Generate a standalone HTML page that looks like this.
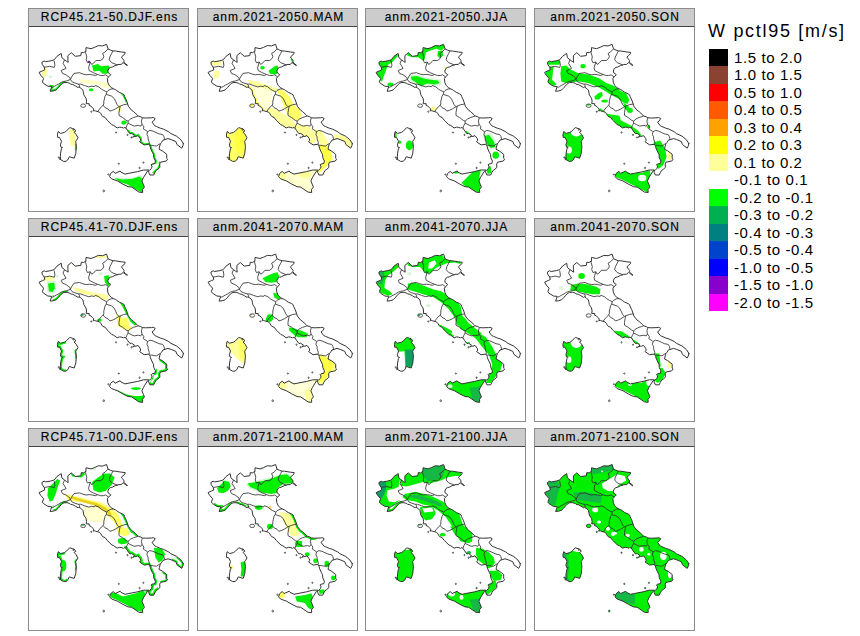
<!DOCTYPE html><html><head><meta charset="utf-8"><style>
html,body{margin:0;padding:0;background:#fff;width:860px;height:636px;overflow:hidden}
body{position:relative;font-family:"Liberation Sans",sans-serif}
.p{position:absolute;box-sizing:border-box;border:1px solid #8c8c8c;background:#fff}
.h{position:absolute;left:0;top:0;right:0;height:17px;background:#cccccc;border-bottom:1px solid #444;
 font-size:12px;letter-spacing:0.95px;text-align:center;line-height:17.5px;color:#000;text-indent:2px;-webkit-text-stroke:0.15px #000;white-space:nowrap}
.lt{position:absolute;left:708px;top:21px;font-size:18px;letter-spacing:1.7px;white-space:nowrap;color:#000}
.sw{position:absolute;left:709px;width:19px}
.lb{position:absolute;left:734px;font-size:15px;letter-spacing:0.6px;white-space:nowrap;color:#000;line-height:17.5px}
svg.m{position:absolute;left:0;top:0}
</style></head><body>
<div class="p" style="left:28px;top:8px;width:161px;height:204px"><div class="h">RCP45.21-50.DJF.ens</div></div>
<div class="p" style="left:197px;top:8px;width:161px;height:204px"><div class="h">anm.2021-2050.MAM</div></div>
<div class="p" style="left:365px;top:8px;width:161px;height:204px"><div class="h">anm.2021-2050.JJA</div></div>
<div class="p" style="left:533.5px;top:8px;width:161px;height:204px"><div class="h">anm.2021-2050.SON</div></div>
<div class="p" style="left:28px;top:217.8px;width:161px;height:204px"><div class="h">RCP45.41-70.DJF.ens</div></div>
<div class="p" style="left:197px;top:217.8px;width:161px;height:204px"><div class="h">anm.2041-2070.MAM</div></div>
<div class="p" style="left:365px;top:217.8px;width:161px;height:204px"><div class="h">anm.2041-2070.JJA</div></div>
<div class="p" style="left:533.5px;top:217.8px;width:161px;height:204px"><div class="h">anm.2041-2070.SON</div></div>
<div class="p" style="left:28px;top:428.2px;width:161px;height:203px"><div class="h">RCP45.71-00.DJF.ens</div></div>
<div class="p" style="left:197px;top:428.2px;width:161px;height:203px"><div class="h">anm.2071-2100.MAM</div></div>
<div class="p" style="left:365px;top:428.2px;width:161px;height:203px"><div class="h">anm.2071-2100.JJA</div></div>
<div class="p" style="left:533.5px;top:428.2px;width:161px;height:203px"><div class="h">anm.2071-2100.SON</div></div>
<div class="lt">W pctl95 [m/s]</div>
<div class="sw" style="top:48.5px;height:17.5px;background:#000000"></div><div class="lb" style="top:48.5px">1.5 to 2.0</div>
<div class="sw" style="top:66.0px;height:17.5px;background:#8a4232"></div><div class="lb" style="top:66.0px">1.0 to 1.5</div>
<div class="sw" style="top:83.5px;height:17.5px;background:#ff0000"></div><div class="lb" style="top:83.5px">0.5 to 1.0</div>
<div class="sw" style="top:101.0px;height:17.5px;background:#ff5a00"></div><div class="lb" style="top:101.0px">0.4 to 0.5</div>
<div class="sw" style="top:118.5px;height:17.5px;background:#ffa200"></div><div class="lb" style="top:118.5px">0.3 to 0.4</div>
<div class="sw" style="top:136.0px;height:17.5px;background:#ffff00"></div><div class="lb" style="top:136.0px">0.2 to 0.3</div>
<div class="sw" style="top:153.5px;height:17.5px;background:#ffff99"></div><div class="lb" style="top:153.5px">0.1 to 0.2</div>
<div class="lb" style="top:171.0px">-0.1 to 0.1</div>
<div class="sw" style="top:188.5px;height:17.5px;background:#00ff00"></div><div class="lb" style="top:188.5px">-0.2 to -0.1</div>
<div class="sw" style="top:206.0px;height:17.5px;background:#00b050"></div><div class="lb" style="top:206.0px">-0.3 to -0.2</div>
<div class="sw" style="top:223.5px;height:17.5px;background:#008080"></div><div class="lb" style="top:223.5px">-0.4 to -0.3</div>
<div class="sw" style="top:241.0px;height:17.5px;background:#0044cc"></div><div class="lb" style="top:241.0px">-0.5 to -0.4</div>
<div class="sw" style="top:258.5px;height:17.5px;background:#0000ff"></div><div class="lb" style="top:258.5px">-1.0 to -0.5</div>
<div class="sw" style="top:276.0px;height:17.5px;background:#8800cc"></div><div class="lb" style="top:276.0px">-1.5 to -1.0</div>
<div class="sw" style="top:293.5px;height:17.5px;background:#ff00ff"></div><div class="lb" style="top:293.5px">-2.0 to -1.5</div>
<svg class="m" width="860" height="636" viewBox="0 0 860 636"><defs><path id="land" d="M22.1,83.3 L25.0,83.0 L28.1,82.0 L29.8,80.3 L30.5,79.6 L31.9,77.9 L33.6,76.1 L34.8,75.2 L36.0,74.6 L39.1,74.5 L41.8,75.3 L42.5,76.1 L44.8,76.5 L47.3,77.9 L50.1,79.6 L50.9,78.9 L51.7,79.6 L52.6,79.9 L54.9,82.2 L55.5,84.9 L55.8,86.8 L57.1,88.9 L58.0,90.2 L58.6,93.2 L58.2,95.6 L61.2,95.7 L61.1,97.4 L62.8,98.0 L64.2,99.6 L65.8,101.0 L65.2,102.9 L66.8,102.6 L67.6,103.0 L71.5,104.1 L72.9,105.7 L74.0,107.6 L74.6,108.4 L77.2,109.5 L79.1,112.1 L79.8,112.7 L83.9,116.8 L85.7,117.4 L89.1,120.0 L91.6,119.1 L93.8,119.4 L95.5,120.1 L96.1,119.5 L97.9,120.0 L99.7,122.8 L101.9,125.7 L103.7,125.4 L106.5,127.4 L105.3,128.4 L104.7,129.2 L106.8,128.4 L108.0,128.4 L110.0,127.6 L112.2,130.5 L112.7,132.3 L111.6,133.8 L116.1,136.9 L120.5,136.3 L121.6,137.5 L122.3,138.8 L122.4,140.0 L124.3,144.2 L125.5,146.5 L125.8,149.7 L127.4,153.0 L126.9,155.4 L123.8,156.1 L122.9,157.0 L124.1,158.0 L123.6,159.9 L123.2,160.7 L121.6,162.3 L120.6,162.7 L120.7,164.3 L121.9,167.0 L125.7,167.0 L126.8,164.6 L128.1,162.4 L129.8,161.3 L131.9,159.4 L131.7,156.0 L132.5,154.2 L138.3,153.0 L139.6,151.2 L138.7,150.4 L138.7,146.3 L134.2,142.8 L131.1,141.3 L131.4,139.2 L132.3,135.9 L133.5,134.5 L134.9,132.2 L140.0,130.6 L143.2,131.6 L147.9,133.6 L148.9,136.5 L153.7,140.2 L155.1,137.3 L155.2,135.2 L155.6,135.8 L152.9,131.8 L148.6,128.2 L142.8,125.5 L140.8,123.8 L135.6,121.2 L132.3,120.2 L128.4,118.5 L126.8,117.8 L124.0,114.1 L125.6,113.0 L127.2,110.5 L125.2,109.5 L123.5,109.8 L117.7,110.0 L114.4,109.8 L112.8,108.8 L110.2,108.0 L109.3,107.1 L105.7,103.7 L103.4,102.1 L100.3,98.1 L99.7,96.0 L98.3,92.0 L97.4,90.2 L96.6,88.5 L96.1,86.8 L94.6,85.8 L91.2,84.3 L88.8,82.6 L87.4,81.6 L85.4,80.8 L83.3,79.5 L81.2,77.5 L79.8,74.4 L79.4,70.4 L80.6,68.9 L82.8,66.7 L80.3,64.9 L79.8,63.0 L80.9,60.4 L82.5,59.4 L84.3,59.0 L87.1,57.5 L89.1,57.1 L90.0,56.5 L93.1,56.4 L95.0,54.7 L95.8,55.1 L98.9,57.5 L99.5,57.3 L97.6,55.8 L95.8,54.0 L96.1,52.7 L94.4,50.4 L93.4,49.0 L95.0,47.6 L97.0,45.7 L97.2,44.4 L93.4,44.0 L87.3,43.0 L84.9,42.9 L82.5,42.1 L80.0,40.9 L78.6,36.3 L74.6,37.9 L70.3,37.6 L66.7,39.3 L63.0,40.7 L58.0,39.6 L57.9,43.0 L55.7,44.7 L53.3,44.4 L52.8,47.6 L47.2,48.3 L43.3,44.7 L39.9,47.6 L39.9,51.8 L40.2,54.4 L38.5,53.3 L36.5,51.8 L33.9,49.7 L33.2,45.4 L29.0,48.3 L26.2,51.8 L22.9,52.8 L17.7,53.7 L16.1,53.0 L13.9,54.3 L14.2,56.4 L16.2,59.2 L16.8,61.8 L14.7,62.7 L11.1,64.4 L12.6,67.1 L15.6,70.4 L14.4,73.9 L15.4,75.3 L19.9,78.2 L23.8,78.6 L22.9,81.0ZM120.7,162.0 L119.5,163.1 L116.4,168.0 L115.4,169.7 L113.9,173.0 L115.5,176.8 L116.4,179.1 L114.5,181.5 L114.7,184.5 L111.0,184.1 L103.7,179.1 L100.0,178.7 L94.8,176.1 L89.5,173.0 L83.6,170.8 L81.6,168.7 L82.5,165.6 L85.3,163.3 L87.1,165.4 L92.2,163.0 L92.9,164.1 L97.0,166.1 L100.9,165.3 L109.7,163.6 L115.7,162.0ZM41.6,119.7 L42.2,119.7 L44.5,120.5 L46.2,120.9 L47.8,123.1 L46.0,124.2 L48.1,126.4 L50.0,129.8 L48.7,131.9 L47.7,133.3 L48.4,138.3 L47.8,145.2 L46.2,150.2 L41.3,148.7 L39.7,152.0 L38.0,153.3 L35.6,153.4 L32.6,151.6 L32.4,148.7 L32.6,145.2 L33.4,140.9 L34.5,139.5 L33.1,139.3 L32.4,136.9 L33.5,133.2 L31.5,129.4 L29.7,129.4 L29.4,126.9 L30.2,123.5 L32.6,125.4 L36.4,124.4 L38.4,123.1Z"/><path id="isl" d="M52.7,97.7 a2.4,1.7 0 1,0 4.9,0 a2.4,1.7 0 1,0 -4.9,0ZM62.7,103.7 a0.6,0.6 0 1,0 1.2,0 a0.6,0.6 0 1,0 -1.2,0ZM87.4,124.5 a0.6,0.6 0 1,0 1.2,0 a0.6,0.6 0 1,0 -1.2,0ZM98.9,126.9 a0.6,0.6 0 1,0 1.2,0 a0.6,0.6 0 1,0 -1.2,0ZM102.9,129.5 a0.6,0.6 0 1,0 1.2,0 a0.6,0.6 0 1,0 -1.2,0ZM111.0,159.9 a0.6,0.7 0 1,0 1.2,0 a0.6,0.7 0 1,0 -1.2,0ZM114.8,154.6 a0.6,0.6 0 1,0 1.2,0 a0.6,0.6 0 1,0 -1.2,0ZM90.2,155.7 a0.6,0.6 0 1,0 1.2,0 a0.6,0.6 0 1,0 -1.2,0ZM75.0,182.9 a0.7,0.9 0 1,0 1.5,0 a0.7,0.9 0 1,0 -1.5,0ZM79.8,166.5 a0.6,0.6 0 1,0 1.2,0 a0.6,0.6 0 1,0 -1.2,0ZM44.8,121.7 a0.6,0.6 0 1,0 1.2,0 a0.6,0.6 0 1,0 -1.2,0ZM31.4,150.9 a0.6,0.9 0 1,0 1.2,0 a0.6,0.9 0 1,0 -1.2,0ZM30.2,149.4 a0.6,0.6 0 1,0 1.2,0 a0.6,0.6 0 1,0 -1.2,0Z"/><path id="bord" d="M26.2,52.8 L26.9,57.3 L26.3,59.4 L21.7,58.3 L18.1,59.0 L16.2,59.2M36.5,51.8 L35.1,55.4 L38.1,60.4 L33.2,62.5 L34.5,65.4 L38.1,66.8 L41.8,69.6 L42.4,71.5M24.3,79.5 L26.2,78.5 L28.4,77.2 L30.5,76.1 L33.2,74.4 L35.7,73.5 L38.7,72.9 L42.4,71.5M42.4,71.5 L44.2,73.9 L46.6,74.9 L50.3,76.1 L51.5,77.5 L51.7,79.6M42.4,71.5 L43.6,68.9 L46.0,65.4 L51.5,64.7 L55.1,66.1 L58.2,66.8 L61.2,66.4 L64.2,66.8 L67.3,67.5 L69.5,66.5M69.5,66.5 L72.7,67.5 L75.2,67.5 L77.6,66.8 L80.6,68.9M69.5,66.5 L65.4,64.7 L61.2,62.5 L60.6,59.7 L62.3,54.0M62.3,54.0 L59.4,54.7 L58.2,51.8 L58.8,49.0 L57.5,44.3 L57.9,43.0M62.3,54.0 L63.6,56.4 L65.4,55.4 L67.9,52.5 L72.7,52.5 L75.2,50.4 L75.8,48.3 L74.6,45.4 L77.0,44.0 L80.0,40.9M84.9,42.9 L83.7,45.4 L81.8,49.0 L81.2,51.8 L83.7,54.7 L89.7,57.0M50.3,76.1 L52.7,76.1 L56.3,77.5 L60.6,78.9 L63.6,78.2 L66.7,78.6 L67.3,77.5 L70.9,78.9 L73.3,81.0 L75.8,82.5 L78.8,83.9M78.8,83.9 L80.0,82.5 L83.1,81.0 L85.4,80.8M78.8,83.9 L78.2,86.3 L77.0,88.2 L76.4,91.0 L75.8,93.2 L75.8,96.0 L75.2,97.2M75.2,97.2 L73.3,98.9 L71.5,101.0 L69.7,103.4M78.2,86.3 L83.7,88.2 L86.1,90.3 L87.9,93.9 L89.1,96.7 L91.0,98.6M91.0,98.6 L92.2,98.1 L95.8,96.7 L99.7,96.0M75.2,97.2 L77.0,99.6 L80.0,101.0 L81.8,103.1 L84.3,102.4 L87.3,101.0 L91.0,98.6M92.2,98.1 L91.6,101.0 L91.0,104.6 L91.0,107.4 L94.6,109.5 L98.3,112.4 L100.1,113.1M100.1,113.1 L100.1,115.2 L98.9,117.4 L97.9,120.0M100.1,113.1 L102.5,111.0 L105.5,109.5 L108.0,108.8 L110.2,108.0M100.1,115.2 L103.1,116.7 L106.1,118.1 L110.4,117.4 L112.8,118.1 L114.0,116.2M114.0,116.2 L113.4,113.1 L114.0,111.0 L114.4,109.8M114.0,116.2 L115.9,118.8 L115.3,120.9 L118.9,123.1 L119.5,123.8M119.5,123.8 L118.9,126.6 L120.1,128.8 L120.1,130.9 L121.3,134.5 L121.1,137.1M119.5,123.8 L121.9,122.4 L125.0,123.1 L128.0,124.5 L131.1,125.9 L134.7,126.6 L135.9,128.5 L136.5,130.9 L135.7,131.6M121.9,137.3 L123.8,137.3 L126.2,137.8 L128.6,138.0 L131.1,136.2 L132.5,135.6"/><clipPath id="clip"><use href="#land"/><use href="#isl"/></clipPath><filter id="bl" x="-5%" y="-5%" width="110%" height="110%"><feGaussianBlur stdDeviation="0.5"/></filter></defs><g transform="translate(28,8)"><g clip-path="url(#clip)"><g filter="url(#bl)"><path fill="#00f000" d="M64.0,57.5 L70.0,56.0 L73.0,58.2 L80.6,57.5 L82.1,61.3 L79.1,65.8 L74.5,65.8 L71.5,62.8 L65.5,63.5Z"/><ellipse fill="#8800cc" cx="60.9" cy="53.7" rx="1.2" ry="0.9"/><ellipse fill="#ffff99" cx="16.3" cy="63.5" rx="2.7" ry="5.3"/><ellipse fill="#d8f6d8" cx="22.4" cy="68.8" rx="1.8" ry="1.5"/><clipPath id="cc1"><path d="M21.6,73.4 L36.7,70.3 L38.3,79.4 L21.6,83.9Z"/></clipPath><g clip-path="url(#cc1)"><use href="#land" fill="none" stroke="#00f000" stroke-width="3"/></g><path fill="#ffffc8" d="M50.4,71.1 L62.4,71.8 L71.5,73.4 L80.6,74.9 L81.3,80.2 L76.1,80.2 L70.0,76.4 L60.9,76.4 L53.4,74.9Z"/><ellipse fill="#00f000" cx="63.2" cy="81.7" rx="2.3" ry="1.5"/><clipPath id="cc2"><path d="M92.7,82.4 L101.7,82.4 L104.8,94.5 L95.7,94.5Z"/></clipPath><g clip-path="url(#cc2)"><use href="#land" fill="none" stroke="#00f000" stroke-width="3"/></g><ellipse fill="#ffff99" cx="91.5" cy="100.6" rx="1.8" ry="3.3"/><ellipse fill="#00f000" cx="96.5" cy="114.2" rx="2.3" ry="1.8"/><path fill="#ffff99" d="M41.2,121.2 L46.0,121.2 L47.7,132.6 L46.0,139.1 L42.8,137.4 L41.2,129.3Z"/><path fill="#00f000" d="M46.9,135.8 L50.1,135.8 L50.1,142.3 L46.9,142.3Z"/><ellipse fill="#00f000" cx="95.7" cy="114.7" rx="2.4" ry="2.0"/><clipPath id="cc3"><path d="M98.1,121.2 L111.2,124.4 L124.2,134.2 L132.3,155.3 L122.6,157.0 L117.7,139.1 L96.5,127.7Z"/></clipPath><g clip-path="url(#cc3)"><use href="#land" fill="none" stroke="#00f000" stroke-width="3"/></g><path fill="#00f000" d="M132.3,153.7 L134.0,157.0 L130.7,161.9 L125.8,165.9 L124.2,164.3 L129.1,160.2Z"/><path fill="#d8f6d8" d="M85.1,169.2 L96.5,170.0 L106.3,169.2 L112.8,166.7 L117.7,171.6 L117.7,181.4 L115.2,186.3 L107.9,183.0 L98.1,178.1 L90.0,174.9Z"/><path fill="#00f000" d="M86.7,170.0 L94.9,171.6 L104.6,170.8 L111.2,168.4 L116.0,171.6 L116.0,179.8 L114.4,184.6 L107.9,181.4 L99.8,176.5 L91.6,174.1Z"/></g></g><use href="#land" fill="none" stroke="#333" stroke-width="1" stroke-linejoin="round"/><use href="#isl" fill="none" stroke="#333" stroke-width="0.8"/><use href="#bord" fill="none" stroke="#333" stroke-width="0.85" stroke-linejoin="round"/></g><g transform="translate(197,8)"><g clip-path="url(#clip)"><g filter="url(#bl)"><path fill="#ffff99" d="M11.8,52.9 L18.6,51.4 L24.7,52.2 L23.9,57.5 L14.1,57.5Z"/><ellipse fill="#ffff99" cx="19.4" cy="66.5" rx="3.0" ry="4.2"/><ellipse fill="#00f000" cx="65.5" cy="59.7" rx="2.3" ry="1.8"/><path fill="#00f000" d="M71.5,62.8 L77.6,58.2 L80.6,57.5 L82.1,62.8 L79.1,66.5 L73.0,65.8Z"/><path fill="#00f000" d="M93.4,50.7 L95.7,49.9 L98.7,56.0 L96.5,56.7Z"/><path fill="#ffff99" d="M50.4,71.8 L59.4,73.4 L68.5,76.4 L77.6,79.4 L80.6,80.9 L77.6,83.9 L71.5,82.4 L62.4,79.4 L53.4,76.4Z"/><path fill="#ffffd8" d="M53.4,77.9 L65.5,79.4 L74.5,82.4 L76.1,91.5 L73.0,99.1 L65.5,100.6 L59.4,94.5 L54.9,85.4Z"/><clipPath id="cc4"><path d="M47.3,73.4 L56.4,73.4 L68.5,103.6 L95.7,118.7 L62.4,118.7 L47.3,88.5Z"/></clipPath><g clip-path="url(#cc4)"><use href="#land" fill="none" stroke="#ffff66" stroke-width="3"/></g><path fill="#ffff66" d="M79.1,80.9 L86.6,82.4 L92.7,88.5 L95.7,94.5 L100.2,100.6 L103.3,108.1 L101.7,112.7 L94.2,111.1 L89.7,103.6 L86.6,97.5 L83.6,90.0Z"/><path fill="#ffff99" d="M68.5,100.6 L77.6,103.6 L88.1,109.6 L95.7,117.2 L77.6,118.7 L70.0,108.1Z"/><ellipse fill="#ffff00" cx="54.1" cy="96.8" rx="2.3" ry="1.2"/><ellipse fill="#ffff00" cx="62.4" cy="102.1" rx="1.5" ry="1.2"/><path fill="#ffff66" d="M24.9,116.3 L52.6,116.3 L52.6,155.3 L24.9,155.3Z"/><ellipse fill="#ffff40" cx="42.8" cy="132.6" rx="4.9" ry="13.0"/><path fill="#ffff99" d="M68.8,100.0 L75.3,106.5 L81.9,113.0 L90.0,117.9 L96.5,121.2 L101.4,127.7 L104.6,129.3 L101.4,119.5 L96.5,113.0 L90.0,108.1 L81.9,103.3 L75.3,100.0Z"/><path fill="#ffff66" d="M88.4,100.0 L101.4,100.0 L104.6,106.5 L103.0,111.4 L94.9,109.8 L90.0,106.5Z"/><path fill="#ffff99" d="M98.1,116.3 L111.2,117.9 L117.7,124.4 L119.3,134.2 L114.4,135.8 L106.3,129.3 L99.8,124.4Z"/><path fill="#ffff99" d="M116.9,121.2 L124.2,122.8 L130.7,132.6 L132.3,135.8 L124.2,137.4 L119.3,129.3Z"/><path fill="#ffff44" d="M121.7,136.6 L130.7,137.4 L134.0,144.0 L135.6,150.5 L132.3,155.3 L127.4,160.2 L122.6,165.1 L119.3,161.9 L124.2,155.3 L125.8,148.8 L122.6,142.3Z"/><path fill="#ffff99" d="M137.2,126.0 L147.0,127.7 L153.5,132.6 L156.7,139.1 L150.2,140.7 L143.7,132.6 L137.2,130.9Z"/><path fill="#ffffd0" d="M78.6,160.2 L120.9,158.6 L120.9,186.3 L78.6,186.3Z"/><ellipse fill="#ffff99" cx="107.9" cy="166.7" rx="6.5" ry="3.3"/><ellipse fill="#ffff99" cx="85.1" cy="168.4" rx="4.1" ry="4.1"/></g></g><use href="#land" fill="none" stroke="#333" stroke-width="1" stroke-linejoin="round"/><use href="#isl" fill="none" stroke="#333" stroke-width="0.8"/><use href="#bord" fill="none" stroke="#333" stroke-width="0.85" stroke-linejoin="round"/></g><g transform="translate(365,8)"><g clip-path="url(#clip)"><g filter="url(#bl)"><path fill="#00f000" d="M12.6,52.9 L20.1,50.7 L24.7,51.4 L26.2,48.4 L31.5,44.6 L33.0,47.7 L27.7,53.7 L23.1,56.7 L20.9,62.8 L18.6,68.8 L17.1,73.4 L14.1,71.8 L11.0,64.3 L13.3,58.2Z"/><path fill="#00f000" d="M42.0,43.1 L51.9,44.6 L56.4,41.6 L62.4,38.6 L71.5,36.3 L77.6,35.3 L80.6,39.3 L76.1,42.4 L71.5,40.8 L65.5,42.4 L60.9,44.6 L59.4,52.2 L57.2,52.2 L53.4,49.2 L47.3,49.2 L42.5,47.7Z"/><path fill="#00f000" d="M73.0,43.1 L77.6,42.4 L78.3,47.7 L74.5,49.9 L72.3,47.7Z"/><path fill="#d8f6d8" d="M44.3,66.5 L53.4,66.5 L59.4,68.8 L68.5,70.3 L76.1,71.8 L76.8,77.1 L70.0,77.9 L62.4,77.1 L56.4,79.4 L48.8,75.6 L45.1,72.6Z"/><path fill="#00f000" d="M45.8,68.8 L51.9,68.1 L57.9,70.3 L65.5,71.8 L73.0,72.6 L74.5,74.9 L70.0,76.4 L62.4,75.6 L56.4,77.9 L50.4,74.1 L46.6,71.8Z"/><ellipse fill="#00f000" cx="25.4" cy="76.4" rx="3.0" ry="1.8"/><ellipse fill="#ffff99" cx="80.6" cy="59.7" rx="1.5" ry="1.2"/><ellipse fill="#ffff99" cx="68.5" cy="100.6" rx="3.0" ry="2.3"/><ellipse fill="#00f000" cx="44.4" cy="137.4" rx="3.6" ry="4.9"/><path fill="#00f000" d="M28.1,122.8 L31.4,122.8 L31.7,129.3 L28.5,129.3Z"/><ellipse fill="#00f000" cx="34.7" cy="134.2" rx="1.6" ry="1.6"/><path fill="#00f000" d="M97.3,123.6 L101.4,122.8 L106.3,126.9 L104.6,129.3 L99.8,127.7Z"/><path fill="#d8f6d8" d="M117.7,126.0 L125.8,124.4 L130.7,132.6 L132.3,140.7 L124.2,141.5 L120.1,135.8Z"/><path fill="#00f000" d="M119.3,127.7 L124.2,126.9 L128.3,132.6 L130.7,139.1 L125.8,139.9 L121.7,135.8Z"/><ellipse fill="#00f000" cx="130.7" cy="147.2" rx="3.3" ry="3.6"/><path fill="#00f000" d="M120.9,158.6 L125.8,158.6 L126.6,165.1 L122.6,165.9Z"/><path fill="#00f000" d="M96.5,174.9 L101.4,170.0 L107.9,163.5 L116.0,161.9 L114.4,168.4 L116.0,176.5 L115.2,184.6 L107.9,183.0 L99.8,178.1Z"/><ellipse fill="#00f000" cx="91.6" cy="163.5" rx="3.3" ry="2.0"/></g></g><use href="#land" fill="none" stroke="#333" stroke-width="1" stroke-linejoin="round"/><use href="#isl" fill="none" stroke="#333" stroke-width="0.8"/><use href="#bord" fill="none" stroke="#333" stroke-width="0.85" stroke-linejoin="round"/></g><g transform="translate(533.5,8)"><g clip-path="url(#clip)"><g filter="url(#bl)"><path fill="#00f000" d="M12.6,62.8 L16.3,59.0 L20.1,58.2 L19.4,64.3 L18.6,71.8 L23.1,76.4 L20.1,77.9 L14.1,74.9 L11.8,68.8Z"/><path fill="#00f000" d="M11.8,52.9 L19.4,50.7 L26.2,50.7 L26.2,56.7 L19.4,56.7 L13.3,56.7Z"/><path fill="#00f000" d="M27.7,58.2 L33.0,57.5 L36.7,61.3 L44.3,65.0 L54.9,66.5 L65.5,70.3 L73.0,74.9 L80.6,77.9 L86.6,82.4 L92.7,85.4 L95.7,91.5 L94.2,96.0 L89.7,94.5 L83.6,90.0 L77.6,87.0 L73.0,83.9 L65.5,79.4 L54.9,74.9 L45.8,73.4 L39.8,74.1 L32.2,74.9 L27.7,73.4 L26.9,65.8Z"/><ellipse fill="#00f000" cx="49.6" cy="58.2" rx="2.7" ry="2.1"/><path fill="#00f000" d="M60.9,88.5 L65.5,84.7 L68.5,83.9 L69.2,87.7 L65.5,91.5 L61.7,91.5Z"/><ellipse fill="#00f000" cx="71.1" cy="93.0" rx="3.3" ry="1.5"/><path fill="#00f000" d="M89.7,94.5 L94.2,97.5 L98.7,103.6 L95.7,105.1 L91.2,100.6Z"/><ellipse fill="#00f000" cx="83.6" cy="111.1" rx="3.3" ry="3.8"/><ellipse fill="#00f000" cx="48.8" cy="93.0" rx="0.8" ry="0.8"/><path fill="#00f000" d="M51.9,96.0 L57.2,96.0 L57.2,97.5 L51.9,97.5Z"/><ellipse fill="#00f000" cx="61.7" cy="102.1" rx="1.2" ry="1.2"/><path fill="#00f000" d="M24.9,117.9 L50.9,117.9 L50.9,153.7 L24.9,153.7Z"/><ellipse fill="#ffffff" cx="42.8" cy="123.6" rx="5.7" ry="4.9"/><ellipse fill="#ffffff" cx="35.5" cy="142.0" rx="2.9" ry="3.6"/><path fill="#00f000" d="M81.0,165.1 L88.4,162.7 L98.1,164.3 L107.9,165.1 L116.0,161.9 L117.7,168.4 L116.0,176.5 L114.4,184.6 L107.9,181.4 L98.1,176.5 L88.4,171.6 L82.7,169.2Z"/><ellipse fill="#ffffff" cx="108.7" cy="170.0" rx="4.1" ry="3.3"/><path fill="#00f000" d="M120.1,134.2 L126.6,132.6 L131.5,139.9 L133.1,148.8 L129.9,157.0 L125.0,161.0 L120.9,156.2 L124.2,148.8 L121.3,142.3Z"/><ellipse fill="#ffff99" cx="136.4" cy="148.0" rx="2.4" ry="4.1"/><path fill="#00f000" d="M66.4,100.0 L73.7,105.7 L81.9,107.3 L88.4,113.0 L96.5,117.1 L104.6,122.8 L108.7,128.5 L104.6,130.1 L98.1,126.0 L90.0,121.2 L83.5,117.9 L78.6,111.4 L72.1,106.5 L65.6,103.3Z"/><ellipse fill="#00f000" cx="63.1" cy="102.9" rx="2.0" ry="1.6"/><ellipse fill="#00f000" cx="96.5" cy="102.4" rx="2.9" ry="2.4"/><ellipse fill="#00f000" cx="115.2" cy="118.7" rx="1.6" ry="2.0"/></g></g><use href="#land" fill="none" stroke="#333" stroke-width="1" stroke-linejoin="round"/><use href="#isl" fill="none" stroke="#333" stroke-width="0.8"/><use href="#bord" fill="none" stroke="#333" stroke-width="0.85" stroke-linejoin="round"/></g><g transform="translate(28,217.8)"><g clip-path="url(#clip)"><g filter="url(#bl)"><path fill="#ffff99" d="M65.5,37.1 L76.1,35.6 L79.1,40.1 L68.5,40.1Z"/><path fill="#fdfdd8" d="M42.8,43.1 L53.4,42.4 L54.9,46.9 L44.3,47.7Z"/><path fill="#ffff99" d="M15.6,59.0 L24.7,58.2 L26.2,62.8 L17.1,63.5Z"/><path fill="#d8f6d8" d="M18.6,63.5 L27.7,62.8 L28.4,73.4 L24.7,76.4 L19.4,74.9Z"/><path fill="#00f000" d="M20.1,65.8 L26.2,65.0 L26.9,70.3 L24.7,74.1 L20.9,73.4Z"/><ellipse fill="#d8f6d8" cx="29.2" cy="58.2" rx="1.5" ry="1.5"/><clipPath id="cc5"><path d="M24.7,70.3 L39.8,70.3 L39.8,80.9 L24.7,82.4Z"/></clipPath><g clip-path="url(#cc5)"><use href="#land" fill="none" stroke="#00f000" stroke-width="3"/></g><path fill="#00f000" d="M76.1,58.2 L80.6,57.5 L82.9,65.8 L79.8,68.8 L76.8,64.3Z"/><ellipse fill="#d8f6d8" cx="73.0" cy="56.0" rx="2.3" ry="1.5"/><path fill="#ffff99" d="M44.3,68.8 L54.9,71.8 L65.5,74.9 L76.1,76.4 L80.6,77.9 L79.1,82.4 L73.0,80.9 L65.5,77.9 L56.4,76.4 L47.3,73.4Z"/><clipPath id="cc6"><path d="M89.7,80.9 L103.3,80.9 L115.4,105.1 L104.8,108.1Z"/></clipPath><g clip-path="url(#cc6)"><use href="#land" fill="none" stroke="#00f000" stroke-width="4.5"/></g><path fill="#ffff66" d="M88.1,96.0 L92.7,99.1 L98.7,103.6 L103.3,109.6 L101.7,112.7 L94.2,110.4 L89.7,105.1Z"/><ellipse fill="#12b844" cx="53.4" cy="96.8" rx="2.3" ry="1.5"/><ellipse fill="#00f000" cx="61.7" cy="102.1" rx="1.5" ry="1.2"/><ellipse fill="#00f000" cx="71.5" cy="102.1" rx="2.3" ry="1.5"/><clipPath id="cc7"><path d="M23.3,117.9 L37.9,117.9 L37.9,155.3 L23.3,155.3Z"/></clipPath><g clip-path="url(#cc7)"><use href="#land" fill="none" stroke="#00f000" stroke-width="3.5"/></g><clipPath id="cc8"><path d="M44.4,130.9 L52.6,130.9 L52.6,140.7 L44.4,140.7Z"/></clipPath><g clip-path="url(#cc8)"><use href="#land" fill="none" stroke="#00f000" stroke-width="2.5"/></g><path fill="#ffff66" d="M88.4,100.0 L99.8,100.0 L101.4,108.1 L96.5,111.4 L90.0,108.1Z"/><path fill="#00f000" d="M101.4,100.0 L106.3,100.0 L107.9,104.9 L103.8,104.9Z"/><clipPath id="cc9"><path d="M132.3,140.7 L143.7,142.3 L137.2,168.4 L119.3,168.4 L124.2,160.2Z"/></clipPath><g clip-path="url(#cc9)"><use href="#land" fill="none" stroke="#00f000" stroke-width="3.5"/></g><path fill="#00f000" d="M88.4,171.6 L98.1,176.5 L106.3,178.1 L112.8,178.1 L117.7,176.5 L116.9,185.5 L111.2,185.5 L101.4,180.6 L91.6,177.3Z"/><ellipse fill="#00f000" cx="107.9" cy="170.8" rx="4.9" ry="1.3"/></g></g><use href="#land" fill="none" stroke="#333" stroke-width="1" stroke-linejoin="round"/><use href="#isl" fill="none" stroke="#333" stroke-width="0.8"/><use href="#bord" fill="none" stroke="#333" stroke-width="0.85" stroke-linejoin="round"/></g><g transform="translate(197,217.8)"><g clip-path="url(#clip)"><g filter="url(#bl)"><path fill="#00f000" d="M65.5,60.5 L71.5,57.5 L76.8,55.2 L80.6,54.5 L82.1,59.0 L79.1,64.3 L74.5,65.0 L68.5,64.3Z"/><path fill="#00f000" d="M76.1,74.9 L80.6,75.6 L83.6,79.4 L82.1,81.7 L77.6,80.2Z"/><ellipse fill="#00f000" cx="73.0" cy="99.8" rx="3.3" ry="3.3"/><path fill="#00f000" d="M92.7,109.6 L97.2,110.4 L101.7,112.7 L109.3,114.9 L107.8,118.7 L98.7,118.7 L94.2,114.2Z"/><ellipse fill="#c8c860" cx="53.4" cy="96.8" rx="1.8" ry="1.2"/><path fill="#ffff99" d="M26.5,117.9 L46.0,117.1 L50.9,132.6 L47.7,147.2 L39.5,140.7 L33.0,132.6 L27.3,127.7Z"/><path fill="#ffff66" d="M41.2,122.8 L48.5,122.8 L48.5,142.3 L42.8,140.7Z"/><path fill="#00f000" d="M91.6,109.8 L98.1,111.4 L104.6,113.0 L111.2,116.3 L109.5,119.5 L101.4,119.5 L96.5,116.3 L92.4,113.0Z"/><ellipse fill="#00f000" cx="72.1" cy="101.6" rx="3.3" ry="2.4"/><path fill="#ffff99" d="M119.3,135.8 L134.0,139.1 L140.5,147.2 L137.2,155.3 L129.1,165.1 L122.6,167.6 L117.7,161.9Z"/><path fill="#ffff44" d="M120.9,137.4 L132.3,140.7 L137.2,147.2 L134.0,153.7 L127.4,161.9 L122.6,165.1 L119.3,161.9 L124.2,155.3 L125.8,147.2 L121.7,142.3Z"/><path fill="#ffffd8" d="M78.6,160.2 L120.9,158.6 L120.9,186.3 L78.6,186.3Z"/><ellipse fill="#ffff99" cx="85.1" cy="167.6" rx="4.1" ry="4.1"/><ellipse fill="#ffff99" cx="112.8" cy="176.5" rx="4.9" ry="6.5"/></g></g><use href="#land" fill="none" stroke="#333" stroke-width="1" stroke-linejoin="round"/><use href="#isl" fill="none" stroke="#333" stroke-width="0.8"/><use href="#bord" fill="none" stroke="#333" stroke-width="0.85" stroke-linejoin="round"/></g><g transform="translate(365,217.8)"><g clip-path="url(#clip)"><g filter="url(#bl)"><path fill="#00f000" d="M12.6,52.9 L20.1,50.7 L27.7,47.7 L32.2,45.4 L33.7,49.2 L27.7,54.5 L23.1,57.5 L20.1,62.8 L19.4,70.3 L24.7,73.4 L27.7,76.4 L23.1,77.9 L15.6,74.9 L11.0,65.8 L11.8,58.2Z"/><path fill="#12b844" d="M11.0,53.7 L18.6,51.4 L19.4,58.2 L17.1,67.3 L12.6,65.8Z"/><path fill="#00f000" d="M42.0,42.4 L50.4,43.1 L56.4,40.1 L65.5,37.1 L76.1,34.8 L79.1,40.1 L86.6,41.6 L95.7,42.4 L95.7,46.1 L89.7,44.6 L82.1,45.4 L76.1,47.7 L70.0,50.7 L65.5,55.2 L60.9,56.0 L57.9,52.2 L54.9,49.2 L47.3,49.2 L42.8,47.7Z"/><path fill="#ffffff" d="M64.0,44.6 L70.0,42.4 L71.5,46.1 L67.0,50.7 L63.2,50.7Z"/><ellipse fill="#d8f6d8" cx="44.3" cy="56.0" rx="2.3" ry="1.8"/><path fill="#00f000" d="M42.8,65.8 L50.4,65.0 L59.4,68.1 L68.5,71.8 L76.1,73.4 L83.6,77.9 L91.2,82.4 L95.7,88.5 L97.2,97.5 L101.7,103.6 L109.3,109.6 L116.9,115.7 L110.8,118.7 L103.3,115.7 L95.7,111.1 L91.2,103.6 L88.1,97.5 L83.6,91.5 L77.6,85.4 L68.5,79.4 L57.9,76.4 L48.8,73.4 L42.8,71.8Z"/><path fill="#00f000" d="M74.5,106.6 L86.6,112.7 L87.4,115.7 L76.1,110.4Z"/><ellipse fill="#d8f6d8" cx="63.2" cy="87.7" rx="2.3" ry="1.8"/><ellipse fill="#12b844" cx="53.4" cy="96.8" rx="2.3" ry="1.5"/><ellipse fill="#12b844" cx="61.7" cy="102.1" rx="1.5" ry="1.2"/><path fill="#00f000" d="M24.9,116.3 L52.6,116.3 L52.6,155.3 L24.9,155.3Z"/><path fill="#ffffff" d="M29.8,134.2 L39.5,133.4 L40.3,153.7 L29.8,155.3Z"/><path fill="#10a060" d="M40.3,131.7 L48.5,131.7 L47.7,148.8 L41.2,148.8Z"/><path fill="#00f000" d="M78.6,160.2 L120.9,158.6 L120.9,186.3 L78.6,186.3Z"/><path fill="#12b844" d="M104.6,170.0 L117.7,168.4 L117.7,184.6 L107.9,184.6Z"/><ellipse fill="#d8f6d8" cx="85.1" cy="168.4" rx="2.4" ry="2.0"/><path fill="#00f000" d="M90.0,100.0 L99.8,100.0 L106.3,109.8 L112.8,114.7 L120.9,119.5 L127.4,129.3 L132.3,139.1 L137.2,145.6 L135.6,152.1 L130.7,158.6 L125.8,165.1 L120.9,165.1 L124.2,155.3 L127.4,147.2 L124.2,137.4 L116.0,127.7 L111.2,121.2 L104.6,116.3 L98.1,111.4 L91.6,106.5Z"/><path fill="#00f000" d="M73.7,106.5 L80.2,109.8 L85.1,114.7 L89.2,117.9 L87.6,120.3 L81.9,116.3 L75.3,111.4Z"/><path fill="#00f000" d="M98.1,124.4 L104.6,124.4 L105.5,127.7 L99.0,127.7Z"/></g></g><use href="#land" fill="none" stroke="#333" stroke-width="1" stroke-linejoin="round"/><use href="#isl" fill="none" stroke="#333" stroke-width="0.8"/><use href="#bord" fill="none" stroke="#333" stroke-width="0.85" stroke-linejoin="round"/></g><g transform="translate(533.5,217.8)"><g clip-path="url(#clip)"><g filter="url(#bl)"><ellipse fill="#00f000" cx="48.1" cy="58.2" rx="3.3" ry="3.0"/><path fill="#00f000" d="M37.5,67.3 L44.3,65.8 L53.4,66.5 L62.4,68.8 L67.0,71.8 L66.2,76.4 L59.4,76.4 L50.4,74.9 L42.8,73.4 L36.7,72.6Z"/><ellipse fill="#d8f6d8" cx="27.7" cy="70.3" rx="2.3" ry="1.8"/><path fill="#00f000" d="M42.8,42.4 L57.9,41.6 L57.9,44.3 L42.8,44.3Z"/><ellipse fill="#00f000" cx="20.1" cy="51.4" rx="1.5" ry="0.9"/><path fill="#00f000" d="M81.3,113.4 L89.7,114.2 L90.4,118.7 L81.3,118.7Z"/><path fill="#00f000" d="M24.9,117.9 L50.9,117.9 L50.9,153.7 L24.9,153.7Z"/><ellipse fill="#ffffff" cx="42.8" cy="124.4" rx="5.7" ry="5.7"/><ellipse fill="#ffffff" cx="35.5" cy="142.0" rx="2.4" ry="3.3"/><path fill="#00f000" d="M81.0,164.3 L88.4,162.7 L98.1,164.3 L107.9,165.1 L112.8,161.9 L117.7,168.4 L116.0,176.5 L114.4,185.5 L107.9,182.2 L98.1,176.5 L88.4,171.6 L82.7,169.2Z"/><ellipse fill="#ffffff" cx="116.0" cy="164.3" rx="3.3" ry="4.1"/><ellipse fill="#d8f6d8" cx="96.5" cy="166.7" rx="2.0" ry="1.6"/><path fill="#00f000" d="M122.6,148.8 L129.1,150.5 L132.3,155.3 L129.1,161.9 L124.2,165.1 L120.1,161.9 L124.2,155.3Z"/><path fill="#00f000" d="M120.9,135.8 L125.8,135.8 L127.4,148.8 L123.4,148.8Z"/><path fill="#00f000" d="M81.9,113.0 L88.4,113.8 L94.9,117.9 L101.4,122.8 L106.3,126.0 L104.6,130.1 L99.8,126.9 L93.3,122.0 L86.7,118.7 L82.7,116.3Z"/><ellipse fill="#ffff99" cx="136.4" cy="146.4" rx="2.4" ry="4.1"/></g></g><use href="#land" fill="none" stroke="#333" stroke-width="1" stroke-linejoin="round"/><use href="#isl" fill="none" stroke="#333" stroke-width="0.8"/><use href="#bord" fill="none" stroke="#333" stroke-width="0.85" stroke-linejoin="round"/></g><g transform="translate(28,428.2)"><g clip-path="url(#clip)"><g filter="url(#bl)"><path fill="#00f000" d="M20.1,59.7 L24.7,55.2 L29.2,50.7 L32.2,52.2 L29.9,58.2 L27.7,65.8 L24.7,72.6 L21.6,73.4 L19.4,67.3Z"/><path fill="#00f000" d="M42.0,44.6 L50.4,45.4 L54.9,43.1 L57.2,46.1 L53.4,49.2 L44.3,48.4Z"/><ellipse fill="#d8f6d8" cx="66.2" cy="40.8" rx="2.3" ry="1.8"/><path fill="#00f000" d="M64.0,53.7 L70.0,49.2 L76.1,45.4 L82.1,45.4 L86.6,49.2 L83.6,56.7 L77.6,62.8 L71.5,64.3 L65.5,62.0Z"/><clipPath id="cc10"><path d="M24.7,70.3 L39.8,70.3 L39.8,80.9 L24.7,82.4Z"/></clipPath><g clip-path="url(#cc10)"><use href="#land" fill="none" stroke="#00f000" stroke-width="3"/></g><path fill="#ffffd0" d="M54.9,77.9 L76.1,79.4 L77.6,93.0 L68.5,94.5 L56.4,91.5Z"/><path fill="#ffff66" d="M36.7,65.8 L44.3,67.3 L53.4,69.6 L65.5,72.6 L74.5,74.9 L79.1,77.9 L83.6,80.9 L89.7,85.4 L92.7,91.5 L95.7,99.1 L98.7,103.6 L97.2,108.1 L92.7,106.6 L89.7,100.6 L86.6,94.5 L80.6,88.5 L76.1,82.4 L68.5,77.9 L57.9,74.9 L47.3,73.4 L39.8,71.8Z"/><path fill="#e8d020" d="M44.3,68.1 L56.4,71.8 L68.5,74.9 L77.6,79.4 L83.6,85.4 L82.9,87.7 L76.1,82.4 L65.5,77.1 L54.9,74.1 L43.5,70.3Z"/><clipPath id="cc11"><path d="M91.2,82.4 L101.7,82.4 L113.8,106.6 L104.8,109.6Z"/></clipPath><g clip-path="url(#cc11)"><use href="#land" fill="none" stroke="#00f000" stroke-width="3.5"/></g><ellipse fill="#12b844" cx="54.9" cy="96.0" rx="2.3" ry="1.5"/><ellipse fill="#00f000" cx="94.2" cy="112.7" rx="4.5" ry="3.0"/><path fill="#ffff66" d="M88.4,100.0 L99.8,100.0 L101.4,106.5 L96.5,108.1 L90.0,104.9Z"/><path fill="#00f000" d="M101.4,100.0 L107.9,100.0 L108.7,104.9 L103.0,104.9Z"/><path fill="#00f000" d="M90.0,111.4 L96.5,110.6 L99.8,114.7 L93.3,116.3Z"/><clipPath id="cc12"><path d="M96.5,114.7 L111.2,116.3 L125.8,132.6 L120.9,139.1 L96.5,126.0Z"/></clipPath><g clip-path="url(#cc12)"><use href="#land" fill="none" stroke="#00f000" stroke-width="4"/></g><path fill="#00f000" d="M125.8,119.5 L134.0,120.3 L137.2,126.0 L134.0,132.6 L130.7,134.2 L127.4,129.3Z"/><clipPath id="cc13"><path d="M117.7,135.8 L127.4,135.8 L130.7,165.1 L117.7,168.4Z"/></clipPath><g clip-path="url(#cc13)"><use href="#land" fill="none" stroke="#00f000" stroke-width="3.5"/></g><clipPath id="cc14"><path d="M132.3,144.0 L143.7,144.0 L140.5,153.7 L132.3,153.7Z"/></clipPath><g clip-path="url(#cc14)"><use href="#land" fill="none" stroke="#00f000" stroke-width="3"/></g><clipPath id="cc15"><path d="M117.7,160.2 L130.7,160.2 L130.7,168.4 L117.7,168.4Z"/></clipPath><g clip-path="url(#cc15)"><use href="#land" fill="none" stroke="#00f000" stroke-width="3"/></g><clipPath id="cc16"><path d="M23.3,117.9 L36.3,117.9 L39.5,155.3 L23.3,155.3Z"/></clipPath><g clip-path="url(#cc16)"><use href="#land" fill="none" stroke="#00f000" stroke-width="3.5"/></g><ellipse fill="#00f000" cx="35.5" cy="137.4" rx="2.9" ry="5.7"/><clipPath id="cc17"><path d="M44.4,130.9 L52.6,130.9 L52.6,142.3 L44.4,142.3Z"/></clipPath><g clip-path="url(#cc17)"><use href="#land" fill="none" stroke="#00f000" stroke-width="2.5"/></g><clipPath id="cc18"><path d="M143.7,129.3 L158.4,129.3 L158.4,142.3 L143.7,142.3Z"/></clipPath><g clip-path="url(#cc18)"><use href="#land" fill="none" stroke="#00f000" stroke-width="3"/></g><path fill="#00f000" d="M81.0,165.1 L86.7,164.3 L94.9,168.4 L107.9,165.1 L116.0,161.9 L117.7,168.4 L116.0,176.5 L115.2,183.8 L107.9,182.2 L98.1,176.5 L88.4,171.6 L82.7,169.2Z"/></g></g><use href="#land" fill="none" stroke="#333" stroke-width="1" stroke-linejoin="round"/><use href="#isl" fill="none" stroke="#333" stroke-width="0.8"/><use href="#bord" fill="none" stroke="#333" stroke-width="0.85" stroke-linejoin="round"/></g><g transform="translate(197,428.2)"><g clip-path="url(#clip)"><g filter="url(#bl)"><path fill="#00f000" d="M20.1,59.7 L24.7,55.2 L27.7,52.2 L32.2,53.7 L33.7,58.2 L30.7,62.8 L26.2,65.0 L21.6,64.3Z"/><clipPath id="cc19"><path d="M17.1,73.4 L35.2,71.8 L35.2,85.4 L17.1,85.4Z"/></clipPath><g clip-path="url(#cc19)"><use href="#land" fill="none" stroke="#00f000" stroke-width="3.5"/></g><path fill="#d8f6d8" d="M48.8,56.0 L59.4,52.2 L76.1,48.4 L89.7,44.6 L95.7,47.7 L98.7,55.2 L86.6,56.7 L82.1,65.8 L65.5,65.8 L51.9,60.5Z"/><path fill="#00f000" d="M50.4,55.2 L59.4,53.7 L68.5,52.2 L76.1,49.9 L83.6,46.9 L89.7,46.1 L94.2,49.2 L97.2,53.7 L92.7,55.2 L86.6,55.2 L80.6,59.7 L80.6,64.3 L74.5,65.8 L65.5,64.3 L59.4,61.3 L53.4,59.0Z"/><ellipse fill="#d8f6d8" cx="65.5" cy="40.8" rx="1.8" ry="1.5"/><ellipse fill="#00f000" cx="61.7" cy="79.4" rx="3.8" ry="2.3"/><clipPath id="cc20"><path d="M38.3,67.3 L56.4,70.3 L56.4,79.4 L38.3,76.4Z"/></clipPath><g clip-path="url(#cc20)"><use href="#land" fill="none" stroke="#00f000" stroke-width="3"/></g><ellipse fill="#ffd070" cx="73.0" cy="79.4" rx="1.5" ry="1.8"/><path fill="#ffff99" d="M82.1,83.9 L92.7,85.4 L100.2,99.1 L101.7,108.1 L94.2,108.1 L86.6,94.5Z"/><clipPath id="cc21"><path d="M91.2,82.4 L101.7,82.4 L119.9,109.6 L107.8,115.7Z"/></clipPath><g clip-path="url(#cc21)"><use href="#land" fill="none" stroke="#00f000" stroke-width="3.5"/></g><ellipse fill="#00f000" cx="73.0" cy="98.3" rx="3.0" ry="2.7"/><path fill="#00f000" d="M98.7,112.7 L104.8,112.7 L105.5,118.7 L98.7,118.7Z"/><path fill="#00f000" d="M43.6,134.2 L49.3,132.6 L50.1,142.3 L47.7,148.8 L43.6,148.0 L44.4,140.7Z"/><ellipse fill="#ffff99" cx="34.7" cy="139.1" rx="2.0" ry="2.4"/><path fill="#ffff99" d="M91.6,100.0 L101.4,100.0 L101.4,108.1 L93.3,106.5Z"/><clipPath id="cc22"><path d="M98.1,96.7 L120.9,106.5 L117.7,114.7 L98.1,106.5Z"/></clipPath><g clip-path="url(#cc22)"><use href="#land" fill="none" stroke="#00f000" stroke-width="3"/></g><ellipse fill="#00f000" cx="101.4" cy="115.5" rx="3.3" ry="2.4"/><ellipse fill="#00f000" cx="110.3" cy="126.0" rx="2.4" ry="2.0"/><ellipse fill="#00f000" cx="118.5" cy="132.6" rx="2.4" ry="2.4"/><ellipse fill="#00f000" cx="129.9" cy="135.8" rx="2.4" ry="3.3"/><ellipse fill="#00f000" cx="136.4" cy="149.7" rx="2.4" ry="2.4"/><path fill="#00f000" d="M121.7,161.9 L127.4,161.0 L127.4,165.1 L122.6,165.9Z"/><ellipse fill="#ffff66" cx="84.3" cy="165.9" rx="4.1" ry="4.1"/><path fill="#00f000" d="M98.1,168.4 L107.9,166.7 L114.4,165.1 L116.9,171.6 L116.0,182.2 L111.2,179.8 L107.9,174.9 L99.8,173.3Z"/></g></g><use href="#land" fill="none" stroke="#333" stroke-width="1" stroke-linejoin="round"/><use href="#isl" fill="none" stroke="#333" stroke-width="0.8"/><use href="#bord" fill="none" stroke="#333" stroke-width="0.85" stroke-linejoin="round"/></g><g transform="translate(365,428.2)"><g clip-path="url(#clip)"><g filter="url(#bl)"><path fill="#00f000" d="M11.8,52.9 L20.1,49.9 L26.2,50.7 L28.4,44.6 L33.0,43.1 L35.2,49.9 L33.7,58.2 L29.2,60.5 L22.4,62.0 L21.6,67.3 L23.9,73.4 L29.2,74.1 L35.2,71.8 L27.7,77.9 L15.6,76.4 L10.3,65.8Z"/><path fill="#10a060" d="M11.0,53.7 L20.1,50.7 L21.6,58.2 L18.6,67.3 L14.1,73.4 L11.0,65.8Z"/><path fill="#00f000" d="M35.2,50.7 L41.3,44.6 L47.3,43.1 L54.9,41.6 L57.9,38.6 L65.5,35.6 L76.1,34.0 L80.6,40.1 L89.7,41.6 L96.5,42.4 L95.7,47.7 L89.7,47.7 L82.1,49.2 L76.1,52.2 L70.0,53.7 L64.0,55.2 L57.9,53.7 L47.3,56.7 L41.3,58.2 L36.0,57.5Z"/><path fill="#12b844" d="M56.4,40.1 L65.5,36.3 L76.1,34.8 L79.8,40.8 L77.6,49.2 L70.0,52.2 L62.4,52.9 L58.7,47.7Z"/><path fill="#00f000" d="M39.8,65.8 L50.4,63.5 L59.4,65.8 L68.5,68.8 L77.6,73.4 L86.6,79.4 L94.2,85.4 L97.2,94.5 L101.7,103.6 L106.3,109.6 L104.8,114.9 L95.7,113.4 L91.2,106.6 L86.6,97.5 L80.6,88.5 L73.0,82.4 L65.5,77.9 L57.9,76.4 L50.4,73.4 L41.3,71.8 L37.5,68.8Z"/><path fill="#12b844" d="M45.8,66.5 L54.9,67.0 L68.5,71.8 L77.6,76.1 L76.1,78.6 L65.5,74.9 L53.4,70.8 L45.1,69.1Z"/><path fill="#00f000" d="M54.9,79.4 L60.9,77.9 L68.5,79.4 L70.8,85.4 L67.0,90.7 L60.9,92.2 L56.4,88.5Z"/><path fill="#ffffff" d="M57.2,80.2 L67.0,79.4 L68.5,83.2 L59.4,84.2Z"/><ellipse fill="#00f000" cx="77.6" cy="106.6" rx="3.0" ry="1.5"/><ellipse fill="#12b844" cx="54.1" cy="95.7" rx="2.7" ry="1.5"/><ellipse fill="#12b844" cx="61.7" cy="102.1" rx="1.5" ry="1.2"/><clipPath id="cc23"><path d="M18.6,71.8 L36.7,70.3 L38.3,80.9 L18.6,83.9Z"/></clipPath><g clip-path="url(#cc23)"><use href="#land" fill="none" stroke="#00f000" stroke-width="3.5"/></g><path fill="#00f000" d="M24.9,116.3 L52.6,116.3 L52.6,155.3 L24.9,155.3Z"/><ellipse fill="#ffffff" cx="41.2" cy="119.2" rx="4.9" ry="2.3"/><path fill="#00f000" d="M78.6,160.2 L120.9,158.6 L120.9,186.3 L78.6,186.3Z"/><ellipse fill="#ffffff" cx="86.7" cy="165.9" rx="3.3" ry="2.4"/><ellipse fill="#ffffff" cx="96.5" cy="169.2" rx="2.0" ry="2.4"/><path fill="#12b844" d="M104.6,171.6 L117.7,170.0 L116.9,184.6 L108.7,183.0Z"/><path fill="#00f000" d="M85.1,98.4 L107.9,98.4 L107.1,113.8 L101.2,114.7 L95.0,109.8 L90.0,106.5Z"/><path fill="#00f000" d="M111.2,119.5 L117.8,120.5 L124.0,124.4 L128.7,129.0 L129.9,134.7 L126.6,139.1 L123.0,140.4 L118.5,136.1 L113.1,131.9 L110.8,126.4Z"/><path fill="#00f000" d="M124.2,142.7 L132.6,142.3 L137.2,146.7 L135.9,151.8 L129.2,152.9 L125.5,148.5Z"/><path fill="#00f000" d="M120.9,152.9 L130.7,152.6 L132.0,158.6 L126.6,163.5 L120.1,168.4 L117.7,165.1Z"/><ellipse fill="#12b844" cx="103.8" cy="124.4" rx="2.4" ry="1.6"/><ellipse fill="#00f000" cx="77.8" cy="106.5" rx="2.4" ry="1.6"/><ellipse fill="#00f000" cx="103.0" cy="125.7" rx="2.0" ry="1.3"/></g></g><use href="#land" fill="none" stroke="#333" stroke-width="1" stroke-linejoin="round"/><use href="#isl" fill="none" stroke="#333" stroke-width="0.8"/><use href="#bord" fill="none" stroke="#333" stroke-width="0.85" stroke-linejoin="round"/></g><g transform="translate(533.5,428.2)"><g clip-path="url(#clip)"><g filter="url(#bl)"><rect fill="#00f000" x="-10" y="-10" width="200" height="240"/><path fill="#12b844" d="M39.8,64.3 L50.4,63.5 L62.4,65.8 L68.5,68.8 L67.0,74.9 L54.9,73.4 L42.8,71.8Z"/><path fill="#12b844" d="M12.6,53.7 L23.1,50.7 L26.2,58.2 L23.1,70.3 L21.6,77.9 L15.6,74.9 L11.0,64.3Z"/><path fill="#12b844" d="M54.9,40.1 L65.5,35.6 L77.6,34.8 L80.6,41.6 L68.5,44.6 L59.4,46.1Z"/><path fill="#ffffff" d="M68.5,55.2 L76.1,50.7 L83.6,46.1 L91.2,47.7 L92.7,52.2 L85.1,56.7 L80.6,62.8 L74.5,62.8 L69.2,59.7Z"/><ellipse fill="#ffffff" cx="61.7" cy="81.7" rx="3.0" ry="2.4"/><ellipse fill="#ffffff" cx="65.5" cy="93.8" rx="2.1" ry="1.5"/><ellipse fill="#ffffff" cx="74.5" cy="100.6" rx="2.1" ry="2.1"/><ellipse fill="#ffffff" cx="81.3" cy="105.1" rx="2.1" ry="1.5"/><ellipse fill="#ffffff" cx="94.2" cy="107.4" rx="2.1" ry="1.8"/><ellipse fill="#ffffff" cx="68.5" cy="43.1" rx="0.9" ry="0.9"/><path fill="#ffffff" d="M36.3,117.1 L47.7,117.1 L49.3,124.4 L42.8,123.6 L37.1,122.0Z"/><clipPath id="cc24"><path d="M23.3,119.5 L35.5,119.5 L35.5,153.7 L23.3,153.7Z"/></clipPath><g clip-path="url(#cc24)"><use href="#land" fill="none" stroke="#12b844" stroke-width="4"/></g><path fill="#12b844" d="M80.2,161.9 L101.4,161.9 L101.4,176.5 L81.9,171.6Z"/><ellipse fill="#ffffff" cx="79.4" cy="105.7" rx="2.0" ry="2.0"/><ellipse fill="#ffffff" cx="107.9" cy="121.2" rx="2.3" ry="2.3"/><ellipse fill="#ffffff" cx="115.2" cy="126.0" rx="1.6" ry="1.3"/><ellipse fill="#ffffff" cx="129.9" cy="127.7" rx="3.3" ry="4.1"/><ellipse fill="#ffffff" cx="136.4" cy="146.4" rx="2.0" ry="3.6"/></g></g><use href="#land" fill="none" stroke="#333" stroke-width="1" stroke-linejoin="round"/><use href="#isl" fill="none" stroke="#333" stroke-width="0.8"/><use href="#bord" fill="none" stroke="#333" stroke-width="0.85" stroke-linejoin="round"/></g></svg></body></html>
